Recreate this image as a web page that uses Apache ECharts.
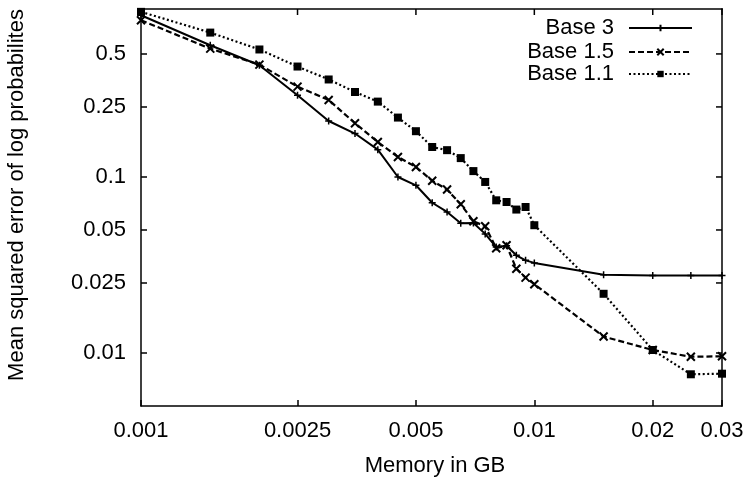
<!DOCTYPE html>
<html>
<head>
<meta charset="utf-8">
<script src="https://cdn.jsdelivr.net/npm/echarts@6/dist/echarts.min.js"></script>
<style>
html,body{margin:0;padding:0;background:#fff;}
#chart{width:749px;height:477px;}
</style>
</head>
<body>
<div id="chart"></div>
<script>
// ---- data ----
const memoryGB = [0.001, 0.0015, 0.002, 0.0025, 0.003, 0.0035, 0.004, 0.0045, 0.005, 0.0055, 0.006, 0.0065, 0.007, 0.0075, 0.008, 0.0085, 0.009, 0.0095, 0.01, 0.015, 0.02, 0.025, 0.03];
const base3  = [0.829, 0.560, 0.431, 0.291, 0.208, 0.1765, 0.143, 0.100, 0.0897, 0.0714, 0.0633, 0.0546, 0.0548, 0.0475, 0.0400, 0.0407, 0.0359, 0.0336, 0.0325, 0.0278, 0.0276, 0.0276, 0.0276];
const base15 = [0.777, 0.536, 0.435, 0.326, 0.274, 0.202, 0.158, 0.130, 0.114, 0.0952, 0.0848, 0.0700, 0.0560, 0.0525, 0.0394, 0.0409, 0.0301, 0.0268, 0.0246, 0.0124, 0.0104, 0.00952, 0.00958];
const base11 = [0.867, 0.661, 0.530, 0.424, 0.358, 0.304, 0.268, 0.2175, 0.182, 0.148, 0.142, 0.128, 0.108, 0.0937, 0.0737, 0.0721, 0.0653, 0.0675, 0.0532, 0.0217, 0.0104, 0.00757, 0.00763];
const seriesNames = ['Base 3', 'Base 1.5', 'Base 1.1'];

const xTickValues = [0.001, 0.0025, 0.005, 0.01, 0.02, 0.03];
const xTickLabels = ['0.001', '0.0025', '0.005', '0.01', '0.02', '0.03'];
const yTickValues = [0.01, 0.025, 0.05, 0.1, 0.25, 0.5];
const yTickLabels = ['0.01', '0.025', '0.05', '0.1', '0.25', '0.5'];
const xRange = [0.001, 0.03];
const yRange = [0.005, 0.9];

const xTitle = 'Memory in GB';
const yTitle = 'Mean squared error of log probabilites';

// ---- layout ----
const W = 749, H = 477;
const GRID = { left: 141, right: 27, top: 9, bottom: 71 };
const FONT = 'Liberation Sans, Arial, Helvetica, sans-serif';
const FS = 22;
const INK = '#000';
const TICK = 6;

// ---- helpers ----
function pairs(xs, ys) { return xs.map((x, i) => [x, ys[i]]); }
function labelFor(values, labels) {
  return function (v) {
    for (let i = 0; i < values.length; i++) {
      if (Math.abs(values[i] - v) / values[i] < 1e-6) return labels[i];
    }
    return '';
  };
}

const plusPath = 'path://M0,5L10,5M5,0L5,10';
const crossPath = 'path://M0,0L10,10M0,10L10,0';

function axisDef(kind, pos) {
  const vals = kind === 'x' ? xTickValues : yTickValues;
  const labs = kind === 'x' ? xTickLabels : yTickLabels;
  const range = kind === 'x' ? xRange : yRange;
  return {
    type: 'log', logBase: 10, position: pos,
    min: range[0], max: range[1],
    splitLine: { show: false },
    axisLine: { show: true, onZero: false, lineStyle: { color: INK, width: 1.5 } },
    axisTick: { show: true, inside: true, length: TICK, lineStyle: { color: INK, width: 1.5 }, customValues: vals },
    axisLabel: {
      show: true, customValues: vals, formatter: labelFor(vals, labs),
      color: INK, fontFamily: FONT, fontSize: FS, margin: kind === 'x' ? 14 : 15,
      showMinLabel: true, showMaxLabel: true, hideOverlap: false
    },
    minorTick: { show: false },
    name: ''
  };
}

function legendDef(name, top) {
  return {
    data: [name], orient: 'vertical', right: 56, top: top, padding: 0,
    align: 'right', itemWidth: 63, itemHeight: 8, itemGap: 0,
    selectedMode: false,
    textStyle: { color: INK, fontFamily: FONT, fontSize: FS, padding: [0, 10, 0, 0] }
  };
}

// plot rectangle edges (layout)
const xL = GRID.left, xR = W - GRID.right, yT = GRID.top, yB = H - GRID.bottom;
// same log mapping the axes use, for the mirrored ticks on the top/right edges
function logPos(v, range, p0, p1) {
  const t = (Math.log(v) - Math.log(range[0])) / (Math.log(range[1]) - Math.log(range[0]));
  return p0 + t * (p1 - p0);
}

const frameStyle = { stroke: INK, lineWidth: 1.5, lineCap: 'square' };
const tickStyle = { stroke: INK, lineWidth: 1.5 };
function frameElements(px, py) {
  const els = [
    { type: 'line', silent: true, z: 10, shape: { x1: xL, y1: yT, x2: xR, y2: yT }, style: frameStyle },
    { type: 'line', silent: true, z: 10, shape: { x1: xR, y1: yT, x2: xR, y2: yB }, style: frameStyle }
  ];
  xTickValues.forEach(v => {
    const x = px(v);
    els.push({ type: 'line', silent: true, z: 10, shape: { x1: x, y1: yT, x2: x, y2: yT + TICK }, style: tickStyle });
  });
  yTickValues.forEach(v => {
    const y = py(v);
    els.push({ type: 'line', silent: true, z: 10, shape: { x1: xR, y1: y, x2: xR - TICK, y2: y }, style: tickStyle });
  });
  return els;
}

const titleElements = [
  { type: 'text', x: 435, y: 466, silent: true,
    style: { text: xTitle, fill: INK, font: FS + 'px ' + FONT, align: 'center', verticalAlign: 'middle' } },
  { type: 'text', x: 17, y: 195, rotation: Math.PI / 2, silent: true,
    style: { text: yTitle, fill: INK, font: FS + 'px ' + FONT, align: 'center', verticalAlign: 'middle' } }
];

const chart = echarts.init(document.getElementById('chart'));
chart.setOption({
  animation: false,
  backgroundColor: '#fff',
  grid: { left: GRID.left, right: GRID.right, top: GRID.top, bottom: GRID.bottom, containLabel: false, outerBoundsMode: 'none' },
  xAxis: axisDef('x', 'bottom'),
  yAxis: axisDef('y', 'left'),
  legend: [legendDef(seriesNames[0], 17), legendDef(seriesNames[1], 41), legendDef(seriesNames[2], 63)],
  graphic: {
    elements: titleElements.concat(frameElements(
      v => logPos(v, xRange, xL, xR),
      v => logPos(v, yRange, yB, yT)
    ))
  },
  series: [
    {
      name: seriesNames[0], type: 'line',
      data: pairs(memoryGB, base3),
      symbol: plusPath, symbolSize: 7, showAllSymbol: true,
      lineStyle: { color: INK, width: 2, type: 'solid' },
      itemStyle: { color: INK, borderColor: INK, borderWidth: 1.5 },
      emphasis: { disabled: true }
    },
    {
      name: seriesNames[1], type: 'line',
      data: pairs(memoryGB, base15),
      symbol: crossPath, symbolSize: 8, showAllSymbol: true,
      lineStyle: { color: INK, width: 2.2, type: [6, 3] },
      itemStyle: { color: INK, borderColor: INK, borderWidth: 2 },
      emphasis: { disabled: true }
    },
    {
      name: seriesNames[2], type: 'line',
      data: pairs(memoryGB, base11),
      symbol: 'rect', symbolSize: 8, showAllSymbol: true,
      lineStyle: { color: INK, width: 2.2, type: [2, 2.5] },
      itemStyle: { color: INK },
      emphasis: { disabled: true }
    }
  ]
});
</script>
</body>
</html>
